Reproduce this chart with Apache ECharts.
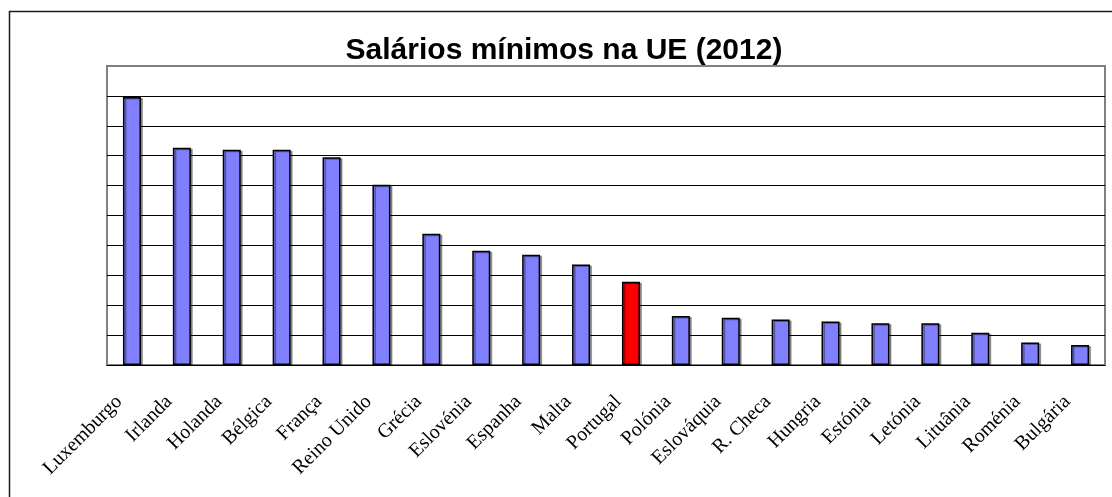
<!DOCTYPE html>
<html>
<head>
<meta charset="utf-8">
<script src="https://cdn.jsdelivr.net/npm/echarts@6/dist/echarts.min.js"></script>
<style>
  html, body { margin: 0; padding: 0; background: #fff; }
  #main { width: 1112px; height: 497px; }
</style>
</head>
<body>
<div id="main"></div>
<script>
// salários mínimos mensais (EUR)
var paises = ['Luxemburgo', 'Irlanda', 'Holanda', 'Bélgica', 'França', 'Reino Unido',
  'Grécia', 'Eslovénia', 'Espanha', 'Malta', 'Portugal', 'Polónia', 'Eslováquia',
  'R. Checa', 'Hungria', 'Estónia', 'Letónia', 'Lituânia', 'Roménia', 'Bulgária']
var salarios = [1793, 1453, 1440, 1440, 1389, 1205, 878, 764, 738, 673,
  557, 327, 316, 305, 291, 280, 280, 215, 151, 133]
var destaque = 'Portugal'

var myChart = echarts.init(document.getElementById('main'))

var dados = salarios.map(function (v, i) {
  return {
    value: v,
    itemStyle: { color: paises[i] === destaque ? '#ff0000' : '#8080ff' }
  }
})

// linhas de grelha pretas, a do topo fica cinzenta (moldura da área)
var coresGrelha = ['#000', '#000', '#000', '#000', '#000', '#000',
  '#000', '#000', '#000', '#000', '#808080']

myChart.setOption({
  animation: false,
  title: {
    text: 'Salários mínimos na UE (2012)',
    left: 559,
    top: 31,
    textAlign: 'center',
    textStyle: {
      fontFamily: 'Liberation Sans',
      fontWeight: 'bold',
      fontSize: 30,
      color: '#000'
    }
  },
  graphic: [{
    // moldura exterior
    type: 'rect',
    shape: { x: 9.5, y: 11.5, width: 1200, height: 600 },
    style: { fill: 'none', stroke: '#1a1a1a', lineWidth: 1.5 },
    silent: true
  }],
  grid: {
    left: 107,
    right: 7,
    top: 66,
    bottom: 132,
    show: true,
    borderColor: '#808080',
    borderWidth: 2
  },
  xAxis: {
    type: 'category',
    data: paises,
    axisLine: { lineStyle: { color: '#000', width: 1 } },
    axisTick: { length: 5, lineStyle: { color: '#000' } },
    axisLabel: {
      interval: 0,
      rotate: 45,
      margin: 21,
      fontFamily: 'Liberation Serif',
      fontSize: 20,
      color: '#000',
      verticalAlign: 'middle',
      padding: [0, 18, 0, 0]
    }
  },
  yAxis: {
    type: 'value',
    min: 0,
    max: 2000,
    interval: 200,
    axisLine: { show: false },
    axisTick: { show: false },
    axisLabel: { show: false },
    splitLine: { lineStyle: { color: coresGrelha, width: 1 } }
  },
  series: [{
    type: 'bar',
    data: dados,
    barWidth: 18,
    itemStyle: {
      borderColor: '#000',
      borderWidth: 1.5,
      shadowColor: 'rgba(0,0,0,0.35)',
      shadowOffsetX: 2,
      shadowOffsetY: 1,
      shadowBlur: 0
    }
  }]
})
</script>
</body>
</html>
